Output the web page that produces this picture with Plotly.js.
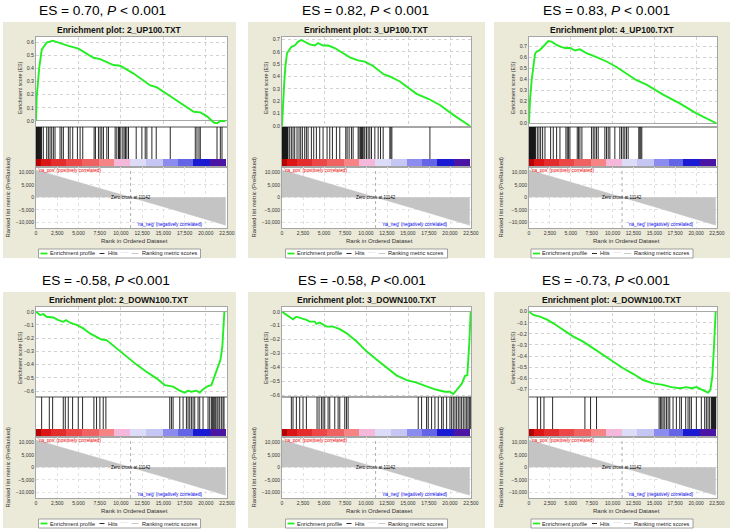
<!DOCTYPE html>
<html><head><meta charset="utf-8">
<script src="https://cdn.plot.ly/plotly-3.0.1.min.js"></script>
<style>html,body{margin:0;padding:0;background:#fff;}#chart{width:732px;height:532px;}</style>
</head><body><div id="chart"></div>
<script>
// ---------------- DATA ----------------
const panelTitles = ['Enrichment plot: 2_UP100.TXT','Enrichment plot: 3_UP100.TXT','Enrichment plot: 4_UP100.TXT',
                     'Enrichment plot: 2_DOWN100.TXT','Enrichment plot: 3_DOWN100.TXT','Enrichment plot: 4_DOWN100.TXT'];
const esHeadlines = ['ES = 0.70, <i>P</i> &lt; 0.001','ES = 0.82, <i>P</i> &lt; 0.001','ES = 0.83, <i>P</i> &lt; 0.001',
                     'ES = -0.58, <i>P</i> &lt;0.001','ES = -0.58, <i>P</i> &lt;0.001','ES = -0.73, <i>P</i> &lt;0.001'];
const legendLabels = ['Enrichment profile','Hits','Ranking metric scores'];
const rankTicks = [0,2500,5000,7500,10000,12500,15000,17500,20000,22500];
const zeroCross = 11142;

// running enrichment scores
const up2Rank  = [0,80,390,670,870,1260,1970,2640,3820,5000,5790,6770,7560,9130,9920,11500,13460,14250,16220,18580,19370,20150,20940,21330,21730,22320];
const up2Score = [0,0.18,0.41,0.54,0.56,0.595,0.61,0.595,0.57,0.55,0.52,0.48,0.47,0.425,0.42,0.36,0.27,0.255,0.17,0.07,0.065,0.035,-0.012,-0.018,0.0,0.0];
const up3Rank  = [0,120,240,400,600,830,1110,1510,1900,2300,2700,3300,3900,4290,4890,5490,6280,7270,8070,9060,9860,10850,12040,12840,14030,16020,17410,18800,20390,22380];
const up3Score = [0,0.24,0.32,0.48,0.59,0.61,0.64,0.65,0.68,0.695,0.68,0.66,0.65,0.67,0.65,0.65,0.63,0.59,0.555,0.53,0.52,0.485,0.42,0.40,0.36,0.26,0.22,0.17,0.09,0.0];
const up4Rank  = [0,120,320,520,720,920,1230,1510,1910,2310,2710,3300,3900,4420,4900,5500,6090,6890,8080,9280,10470,11670,12860,14060,16050,18040,20030,22420];
const up4Score = [0,0.21,0.39,0.54,0.63,0.65,0.66,0.68,0.71,0.745,0.74,0.71,0.69,0.68,0.685,0.66,0.67,0.635,0.60,0.56,0.51,0.45,0.39,0.35,0.26,0.18,0.09,0.0];
const dn2Rank  = [0,470,860,1250,2040,2630,3210,3530,4000,4780,5570,6350,7130,7720,8310,9490,10660,11840,13010,14190,15170,16150,16930,17520,17910,18310,18890,19290,19680,20270,20660,21050,21440,21720,21950,22110,22190];
const dn2Score = [0,-0.025,-0.018,-0.038,-0.043,-0.063,-0.076,-0.063,-0.083,-0.10,-0.126,-0.164,-0.19,-0.21,-0.214,-0.277,-0.34,-0.40,-0.454,-0.504,-0.555,-0.567,-0.597,-0.612,-0.597,-0.605,-0.597,-0.612,-0.587,-0.562,-0.555,-0.49,-0.416,-0.366,-0.265,-0.088,0];
const dn3Rank  = [0,520,910,1310,1710,2310,2900,3300,3900,4090,4490,5290,6080,6880,7670,8860,10060,11250,12440,13630,14830,16020,17210,18400,19400,19990,20390,20790,21390,21790,22060,22300,22460];
const dn3Score = [0,-0.024,-0.04,-0.055,-0.036,-0.047,-0.059,-0.071,-0.071,-0.088,-0.078,-0.107,-0.107,-0.126,-0.154,-0.213,-0.285,-0.344,-0.403,-0.458,-0.493,-0.51,-0.538,-0.562,-0.576,-0.576,-0.593,-0.562,-0.52,-0.462,-0.458,-0.225,0];
const dn4Rank  = [0,520,1310,2110,2910,4100,5300,6490,7690,8880,10070,11270,12460,13660,14850,16050,17040,18040,18840,19430,20030,20830,21420,21700,21940,22140,22340];
const dn4Score = [0,-0.03,-0.045,-0.069,-0.105,-0.165,-0.225,-0.27,-0.33,-0.39,-0.45,-0.51,-0.56,-0.616,-0.646,-0.66,-0.68,-0.69,-0.68,-0.69,-0.68,-0.71,-0.73,-0.706,-0.586,-0.315,0];

// hit positions (rank in ordered dataset)
const up2Hits = [10,60,110,160,220,280,340,400,460,520,590,660,865,1259,1456,1652,1849,2046,2242,2832,3029,3226,3816,4013,4327,4878,5193,5508,6845,7003,7357,7553,7750,7947,8340,8537,9324,9520,9717,9835,9992,10228,10386,10543,10700,10897,11802,12471,12864,13061,13651,14162,15815,18765,18962,19198,19355,21322,21715,21912];
const up3Hits = [10,60,120,180,240,300,360,420,480,540,600,660,715,914,1113,1312,1511,1789,2027,2226,2425,2703,2902,3101,3498,3776,4094,4492,4889,5366,5684,6002,6479,6876,7592,7751,7990,8268,8467,9063,9182,9341,9461,9580,9739,9858,10057,10256,10454,10653,11051,11448,11726,12044,12839,12958,13078,17609];
const up4Hits = [10,60,120,180,240,300,360,420,480,540,600,660,720,790,996,1195,1394,1633,1911,2588,2907,3305,3703,4420,4579,4739,4898,5774,5933,6093,6332,7487,7686,7885,8084,8283,9079,9278,9477,9676,10274,10871,11070,11269,11468,11667,11866,13141,13261,13380,13500];
const dn2Hits = [666,1568,1960,3214,3450,3802,4312,4978,5488,6821,7134,7526,7918,8232,15758,15954,16150,16934,17326,17718,17914,18110,18306,18502,18698,19090,19286,19678,20266,20462,20658,20776,20894,21050,21168,21325,21442,21638,21834,22030,22148];
const dn3Hits = [1113,1312,1709,2107,2504,2902,4174,4412,4691,4889,5088,5486,5684,6281,6678,6877,7473,7672,7871,16218,16616,17212,17411,17808,18206,18603,19001,19200,19598,19995,20194,20392,20591,20790,20989,21188,21386,21585,21784,21983,22142,22301,22420];
const dn4Hits = [996,1394,1792,2827,6690,7367,8083,15570,15730,15890,16050,16250,16450,16650,16845,17240,17640,18040,18240,18755,19035,19235,19435,20030,20625,21025,21225,21425,21620,21820,21880,21940,22000,22060,22120,22180,22240,22300,22350];

// ranked list metric
const metricRank  = [0,2500,5000,7500,11142,15000,17500,20000,22350];
const metricValue = [10900,8500,6100,3700,0,-3800,-6300,-8800,-11200];

// colour bar bins of the ranked list
const barEdges = [0,630,1820,3560,5380,7410,9190,11070,12950,14930,16710,18490,20460,22350];
const barLevel = [0,1,2,3,4,5,6,7,8,9,10,11,12];

const esRanks  = [up2Rank, up3Rank, up4Rank, dn2Rank, dn3Rank, dn4Rank];
const esScores = [up2Score, up3Score, up4Score, dn2Score, dn3Score, dn4Score];
const hitSets  = [up2Hits, up3Hits, up4Hits, dn2Hits, dn3Hits, dn4Hits];

// ---------------- STYLE / GEOMETRY ----------------
const W = 732, H = 532;
const FONT = 'Liberation Sans, Arial, sans-serif';
const BEIGE = '#ebe9d8', GRID = '#d2d2d2', FRAME = '#a6a6a6', GREEN = '#22ee22', GRAYFILL = '#c4c4c4';
const barColors = ['#b40000','#dc1414','#e42c2c','#ec4646','#f06262','#f68484','#f5b8da','#dcdcf8','#c6c6f4','#8c8cf0','#6464e6','#1a1ad2','#4a14a4'];
const esRanges = [[-0.046,0.638],[-0.008,0.719],[-0.034,0.782],[-0.645,0.036],[-0.614,0.034],[-0.769,0.042]];
const colPlot = [[36,227],[282,471],[529,717]];
const colBox  = [[3,236],[248,485],[494,730]];
const headX   = [103,365,606,106,362,606];
const rowOff  = [0,270];
const xp = px => px / W;
const yp = py => 1 - py / H;
const an = n => (n === 1 ? '' : String(n));

const traces = [], shapes = [], annotations = [];
const layout = {
  width: W, height: H, autosize: false,
  margin: {l:0, r:0, t:0, b:0},
  paper_bgcolor: BEIGE, plot_bgcolor: '#ffffff',
  showlegend: false,
  font: {family: FONT, color: '#222'}
};

// white gaps around the beige panels
[[0,0,732,22],[0,258,732,292],[0,528,732,532],[0,0,3,532],[236,0,248,532],[485,0,494,532],[730,0,732,532]].forEach(r => {
  shapes.push({type:'rect', xref:'paper', yref:'paper', x0:xp(r[0]), x1:xp(r[2]), y0:yp(r[3]), y1:yp(r[1]),
               fillcolor:'#ffffff', line:{width:0}, layer:'below'});
});

const cs = barColors.map((c,i) => [i/(barColors.length-1), c]);

for (let p = 0; p < 6; p++) {
  const col = p % 3, row = Math.floor(p/3), off = rowOff[row];
  const [L, R] = colPlot[col];
  const [BL, BR] = colBox[col];
  const k = p*3, nE = k+1, nH = k+2, nR = k+3;
  const frame = {showline:true, mirror:true, linecolor:FRAME, linewidth:1, fixedrange:true};

  // ES subplot
  layout['xaxis'+an(nE)] = Object.assign({domain:[xp(L),xp(R)], range:[0,22500], anchor:'y'+an(nE),
    showticklabels:false, ticks:'', showgrid:true, gridcolor:GRID, griddash:'dot', dtick:5000, tick0:0, zeroline:false}, frame);
  layout['yaxis'+an(nE)] = Object.assign({domain:[yp(off+127), yp(off+37)], range:esRanges[p], anchor:'x'+an(nE),
    dtick:0.1, tick0:0, tickformat:'.1f', ticks:'', tickfont:{size:5.2, color:'#333', family:FONT},
    showgrid:true, gridcolor:GRID, griddash:'dot', zeroline:true, zerolinecolor:'#a8a8a8', zerolinewidth:1}, frame);
  // hits subplot
  layout['xaxis'+an(nH)] = Object.assign({domain:[xp(L),xp(R)], range:[0,22500], anchor:'y'+an(nH),
    showticklabels:false, ticks:'', showgrid:false, zeroline:false}, frame);
  layout['yaxis'+an(nH)] = Object.assign({domain:[yp(off+167), yp(off+127)], range:[0,1], anchor:'x'+an(nH),
    showticklabels:false, ticks:'', showgrid:false, zeroline:false}, frame);
  // ranked list subplot
  layout['xaxis'+an(nR)] = Object.assign({domain:[xp(L),xp(R)], range:[0,22500], anchor:'y'+an(nR),
    tickvals:rankTicks, tickformat:',d', ticks:'', tickfont:{size:5, color:'#333', family:FONT},
    showgrid:true, gridcolor:'#e2e2e2', griddash:'dot', zeroline:false}, frame);
  layout['yaxis'+an(nR)] = Object.assign({domain:[yp(off+228), yp(off+167)], range:[-12300,12100], anchor:'x'+an(nR),
    tickvals:[-10000,-5000,0,5000,10000], tickformat:',d', ticks:'', tickfont:{size:5, color:'#333', family:FONT},
    showgrid:true, gridcolor:'#e2e2e2', griddash:'dot', zeroline:false}, frame);

  // traces
  traces.push({type:'scatter', mode:'lines', x:esRanks[p], y:esScores[p], xaxis:'x'+an(nE), yaxis:'y'+an(nE),
    line:{color:GREEN, width:1.9}, hoverinfo:'skip'});
  const hx = [], hy = [];
  hitSets[p].forEach(h => { hx.push(h, h, null); hy.push(0.2, 1, null); });
  traces.push({type:'scatter', mode:'lines', x:hx, y:hy, xaxis:'x'+an(nH), yaxis:'y'+an(nH),
    line:{color:'#111111', width:0.9}, hoverinfo:'skip'});
  traces.push({type:'heatmap', x:barEdges, y:[0,0.2], z:[barLevel], xaxis:'x'+an(nH), yaxis:'y'+an(nH),
    colorscale:cs, zmin:0, zmax:barColors.length-1, showscale:false, zsmooth:false, hoverinfo:'skip'});
  traces.push({type:'scatter', mode:'lines', x:metricRank, y:metricValue, xaxis:'x'+an(nR), yaxis:'y'+an(nR),
    fill:'tozeroy', fillcolor:GRAYFILL, line:{color:GRAYFILL, width:0.5}, hoverinfo:'skip'});

  // zero-cross dashed line
  shapes.push({type:'line', xref:'x'+an(nR), yref:'y'+an(nR)+' domain', x0:zeroCross, x1:zeroCross, y0:0, y1:1,
    line:{color:'#9a9a9a', width:0.8, dash:'dot'}});

  // texts
  annotations.push({xref:'paper', yref:'paper', x:xp(headX[p]), y:yp(off+10), text:esHeadlines[p], showarrow:false,
    font:{size:13.7, color:'#000', family:FONT}, xanchor:'center', yanchor:'middle'});
  annotations.push({xref:'paper', yref:'paper', x:xp((BL+BR)/2), y:yp(off+30), text:'<b>'+panelTitles[p]+'</b>', showarrow:false,
    font:{size:8.5, color:'#111', family:FONT}, xanchor:'center', yanchor:'middle'});
  annotations.push({xref:'paper', yref:'paper', x:xp(L-16), y:yp(off+88), text:'Enrichment score (ES)', textangle:-90, showarrow:false,
    font:{size:5.2, color:'#333', family:FONT}, xanchor:'center', yanchor:'middle'});
  annotations.push({xref:'paper', yref:'paper', x:xp(L-28.5), y:yp(off+197), text:'Ranked list metric (PreRanked)', textangle:-90, showarrow:false,
    font:{size:5.8, color:'#333', family:FONT}, xanchor:'center', yanchor:'middle'});
  annotations.push({xref:'paper', yref:'paper', x:xp((L+R)/2+3), y:yp(off+241), text:'Rank in Ordered Dataset', showarrow:false,
    font:{size:6, color:'#333', family:FONT}, xanchor:'center', yanchor:'middle'});
  annotations.push({xref:'x'+an(nR), yref:'y'+an(nR), x:zeroCross, y:0, text:'Zero cross at '+zeroCross, showarrow:false,
    font:{size:4.5, color:'#000', family:FONT}, xanchor:'center', yanchor:'middle'});
  annotations.push({xref:'paper', yref:'paper', x:xp(L), y:yp(off+170.5), text:"'na_pos' (positively correlated)", showarrow:false,
    font:{size:4.7, color:'#ee0000', family:FONT}, xanchor:'left', yanchor:'middle'});
  const zcPx = L + (R-L)*zeroCross/22500;
  annotations.push({xref:'paper', yref:'paper', x:xp(zcPx+4), y:yp(off+224), text:"'na_neg' (negatively correlated)", showarrow:false,
    font:{size:4.7, color:'#0000ee', family:FONT}, xanchor:'left', yanchor:'middle'});

  // legend box
  const cx = (BL+BR)/2, lL = cx-81, lR = cx+81, lT = off+249, lB = off+258, lY = off+253.5;
  shapes.push({type:'rect', xref:'paper', yref:'paper', x0:xp(lL), x1:xp(lR), y0:yp(lB), y1:yp(lT),
    fillcolor:'#ffffff', line:{color:'#8a8a8a', width:0.8}});
  shapes.push({type:'line', xref:'paper', yref:'paper', x0:xp(lL+2), x1:xp(lL+9), y0:yp(lY), y1:yp(lY), line:{color:GREEN, width:1.8}});
  shapes.push({type:'line', xref:'paper', yref:'paper', x0:xp(lL+61), x1:xp(lL+66), y0:yp(lY), y1:yp(lY), line:{color:'#111', width:0.9}});
  shapes.push({type:'line', xref:'paper', yref:'paper', x0:xp(lL+82), x1:xp(lL+90), y0:yp(lY-1), y1:yp(lY-1), line:{color:'#e4e4e4', width:0.8}});
  shapes.push({type:'line', xref:'paper', yref:'paper', x0:xp(lL+93), x1:xp(lL+100), y0:yp(lY), y1:yp(lY), line:{color:'#c4c4c4', width:0.9}});
  const legX = [lL+9, lL+67, lL+101];
  legendLabels.forEach((t,i) => {
    annotations.push({xref:'paper', yref:'paper', x:xp(legX[i]), y:yp(lY), text:t, showarrow:false,
      font:{size:5.6, color:'#222', family:FONT}, xanchor:'left', yanchor:'middle'});
  });
}

layout.shapes = shapes;
layout.annotations = annotations;
Plotly.newPlot('chart', traces, layout, {displayModeBar:false, staticPlot:true});
</script>
</body></html>
